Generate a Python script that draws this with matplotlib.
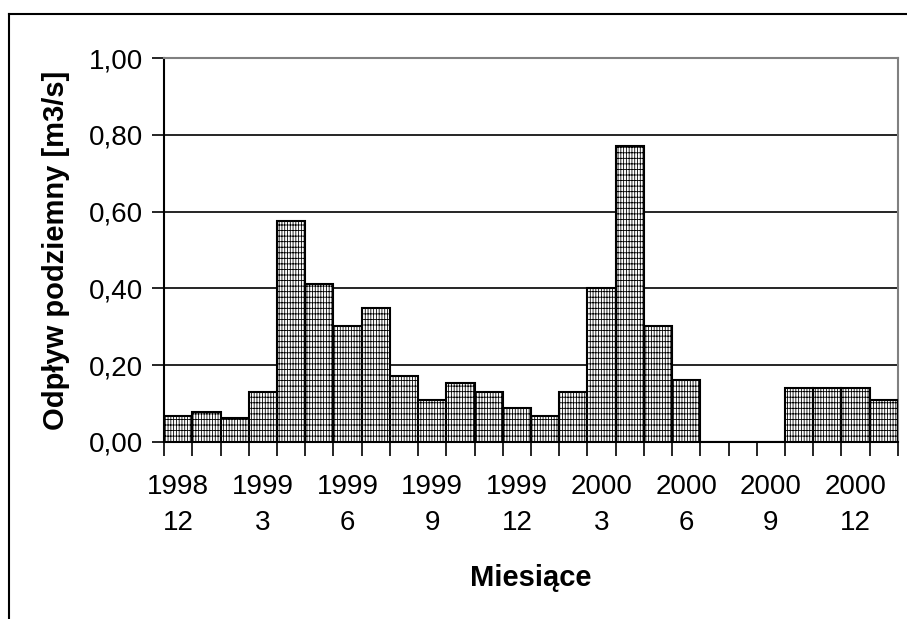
import matplotlib
matplotlib.use('Agg')
import matplotlib.pyplot as plt
from matplotlib.lines import Line2D
import numpy as np

plt.rcParams['font.family'] = ['Liberation Sans', 'DejaVu Sans']
plt.rcParams['hatch.linewidth'] = 0.6

# monthly values, 1998-12 .. 2001-1
years = [1998, 1999, 1999, 1999, 1999, 1999, 1999, 1999, 1999, 1999, 1999, 1999, 1999,
         2000, 2000, 2000, 2000, 2000, 2000, 2000, 2000, 2000, 2000, 2000, 2000, 2001]
months = [12, 1, 2, 3, 4, 5, 6, 7, 8, 9, 10, 11, 12,
          1, 2, 3, 4, 5, 6, 7, 8, 9, 10, 11, 12, 1]
odplyw = [0.068, 0.079, 0.063, 0.131, 0.577, 0.411, 0.302, 0.349, 0.173, 0.109, 0.153, 0.130, 0.089,
          0.068, 0.131, 0.402, 0.772, 0.303, 0.162, 0.0, 0.0, 0.0, 0.140, 0.140, 0.140, 0.109]

fig = plt.figure(figsize=(9.07, 6.19), dpi=100)
ax = fig.add_axes([0.181, 0.286, 0.809, 0.620])

x = np.arange(len(odplyw))
ax.bar(x, odplyw, width=1.0, color='white', edgecolor='black', linewidth=1.5,
       hatch='||||||---', zorder=3)

ax.set_xlim(-0.5, len(odplyw) - 0.5)
ax.set_ylim(0, 1.0)
ax.set_yticks(np.arange(0, 1.01, 0.2))
ax.set_yticklabels([f'{v:.2f}'.replace('.', ',') for v in np.arange(0, 1.01, 0.2)], fontsize=20)
ax.yaxis.grid(True, color='black', linewidth=1.2, zorder=0)

# labels every third month, tick marks between bars
lab_idx = x[::3]
ax.set_xticks(lab_idx)
ax.set_xticklabels([f'{years[i]}\n{months[i]}' for i in lab_idx], fontsize=20, linespacing=1.5)
ax.set_xticks(np.arange(-0.5, len(odplyw), 1.0), minor=True)
ax.tick_params(axis='x', which='major', length=0, pad=23)
ax.tick_params(axis='x', which='minor', length=10, width=1.2, direction='out')
ax.tick_params(axis='y', length=9, width=1.2, direction='out', pad=6)

for s in ['top', 'right']:
    ax.spines[s].set_color('#808080')
    ax.spines[s].set_linewidth(1.5)
for s in ['left', 'bottom']:
    ax.spines[s].set_color('black')
    ax.spines[s].set_linewidth(1.5)

ax.set_ylabel('Odpływ podziemny [m3/s]', fontsize=21, fontweight='bold', labelpad=14)
ax.set_xlabel('Miesiące', fontsize=21, fontweight='bold', labelpad=20)

# outer chart frame
fig.add_artist(Line2D([0.0099, 0.0099], [0.0, 0.977], color='black', linewidth=1.5))
fig.add_artist(Line2D([0.0099, 1.0], [0.977, 0.977], color='black', linewidth=1.5))

fig.savefig('out.png', dpi=100)
